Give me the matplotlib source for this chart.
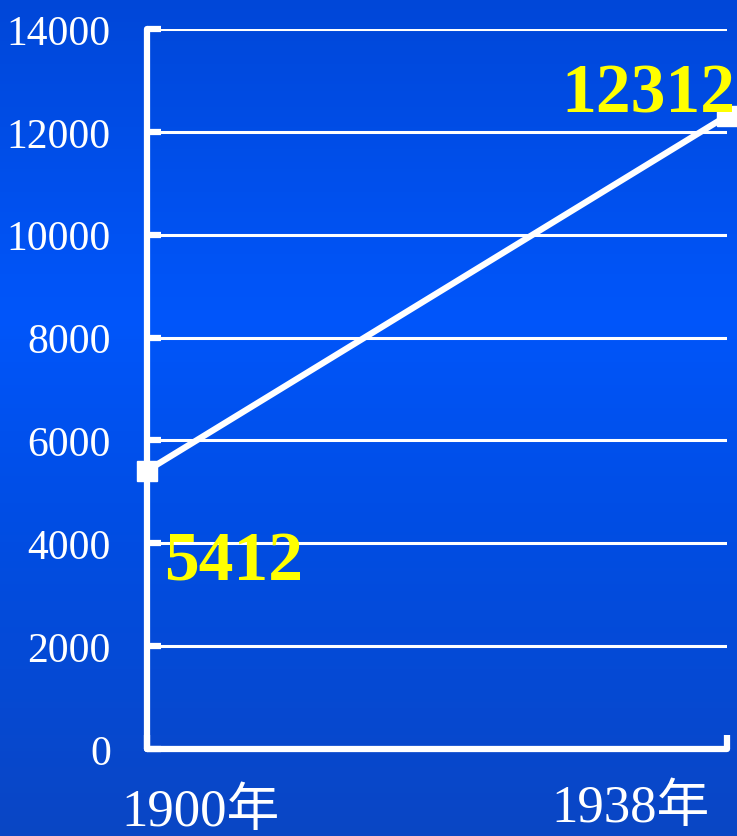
import numpy as np
import matplotlib
matplotlib.use("Agg")
import matplotlib.pyplot as plt
from matplotlib.colors import LinearSegmentedColormap

years = ["1900年", "1938年"]
values = [5412, 12312]
yticks = [0, 2000, 4000, 6000, 8000, 10000, 12000, 14000]

W, H, DPI = 737, 837, 100
fig = plt.figure(figsize=(W / DPI, H / DPI), dpi=DPI)

# gradient background
bg = fig.add_axes([0, 0, 1, 1], zorder=-10)
cmap = LinearSegmentedColormap.from_list(
    "bg", [(0.0, "#0047d8"), (0.38, "#0056fb"), (0.6, "#004ee6"), (1.0, "#0a46c4")])
grad = np.linspace(0, 1, 256).reshape(-1, 1)
bg.imshow(grad, aspect="auto", cmap=cmap, extent=[0, 1, 0, 1], origin="upper")
bg.axis("off")

left, right = 147 / W, 727 / W
bottom, top = 1 - 750 / H, 1 - 30 / H
ax = fig.add_axes([left, bottom, right - left, top - bottom])
ax.patch.set_alpha(0)

xs = [0, 1]
ax.set_xlim(0, 1)
ax.set_ylim(0, 14000)

ax.plot(xs, values, color="white", lw=4.5, marker="s", markersize=14,
        markeredgecolor="white", markerfacecolor="white", clip_on=False, zorder=5)

for y in yticks[1:]:
    ax.axhline(y, color="white", lw=2.2, zorder=1)

for s in ["top", "right"]:
    ax.spines[s].set_visible(False)
for s in ["left", "bottom"]:
    ax.spines[s].set_color("white")
    ax.spines[s].set_linewidth(4.5)
    ax.spines[s].set_capstyle("round")

ax.set_yticks(yticks)
ax.set_yticklabels([str(v) for v in yticks], family="Liberation Serif",
                   fontsize=30, color="white")
ax.tick_params(axis="y", direction="in", length=10, width=4.5, color="white", pad=26)
ax.set_xticks(xs)
ax.set_xticklabels([])
ax.tick_params(axis="x", direction="in", length=10, width=4.5, color="white")

# x labels
fam = ["Liberation Serif", "Noto Sans CJK SC"]
fig.text(200 / W, 1 - 826 / H, years[0], ha="center", va="baseline",
         family=fam, fontsize=38, color="white")
fig.text(631 / W, 1 - 822 / H, years[1], ha="center", va="baseline",
         family=fam, fontsize=38, color="white")

# value annotations
ax.annotate(str(values[1]), (xs[1], values[1]), xytext=(6, 3), textcoords="offset points",
            ha="right", va="baseline", family="Liberation Serif", fontweight="bold",
            fontsize=50, color="#ffff00", zorder=6, annotation_clip=False)
ax.annotate(str(values[0]), (xs[0], values[0]), xytext=(12, -78), textcoords="offset points",
            ha="left", va="baseline", family="Liberation Serif", fontweight="bold",
            fontsize=50, color="#ffff00", zorder=6, annotation_clip=False)

fig.savefig("out.png", dpi=DPI)
